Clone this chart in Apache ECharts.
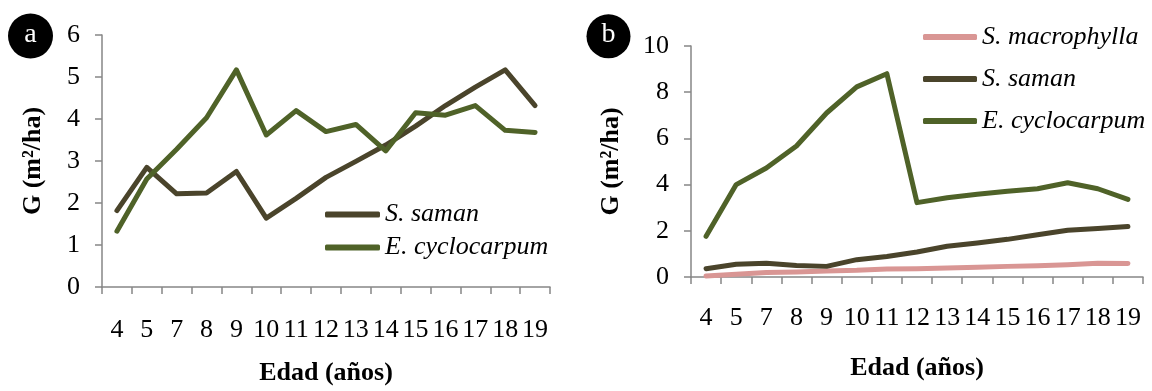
<!DOCTYPE html>
<html>
	<head>
		<meta charset="utf-8" />
		<title>G por edad</title>
		<script src="https://cdn.jsdelivr.net/npm/echarts@6/dist/echarts.min.js"></script>
		<style>
			body { margin: 0; background: #fff; }
		</style>
	</head>
	<body>
		<div id="main" style="width: 1152px;height: 391px;"></div>
	</body>
	<script type="text/javascript">
		// edades (eje x, categorias)
		var edades = ['4', '5', '7', '8', '9', '10', '11', '12', '13', '14', '15', '16', '17', '18', '19'];

		// panel a
		var samanA = [1.82, 2.85, 2.22, 2.24, 2.75, 1.64, 2.11, 2.61, 2.99, 3.38, 3.83, 4.32, 4.76, 5.17, 4.32];
		var cycloA = [1.33, 2.57, 3.28, 4.03, 5.17, 3.62, 4.2, 3.7, 3.87, 3.24, 4.15, 4.09, 4.32, 3.73, 3.68];

		// panel b
		var macroB = [0.04, 0.12, 0.19, 0.22, 0.26, 0.29, 0.35, 0.36, 0.39, 0.42, 0.46, 0.49, 0.53, 0.59, 0.58];
		var samanB = [0.36, 0.55, 0.6, 0.5, 0.46, 0.75, 0.89, 1.08, 1.33, 1.47, 1.63, 1.83, 2.02, 2.1, 2.19];
		var cycloB = [1.76, 4.0, 4.72, 5.67, 7.1, 8.23, 8.8, 3.22, 3.43, 3.58, 3.71, 3.82, 4.08, 3.82, 3.36];

		var fuente = '"Liberation Serif", "Times New Roman", serif';
		var gris = '#868686';
		var colSaman = '#4a442b';
		var colCyclo = '#4f6228';
		var colMacro = '#d99694';

		function ejeX(idx, margen, gap) {
			return {
				type: 'category',
				gridIndex: idx,
				data: edades,
				boundaryGap: true,
				name: 'Edad (años)',
				nameLocation: 'middle',
				nameGap: gap,
				nameTextStyle: { fontFamily: fuente, fontSize: 26, fontWeight: 'bold', color: '#000' },
				axisLine: { lineStyle: { color: gris, width: 1.5 } },
				axisTick: { show: true, length: 7, lineStyle: { color: gris, width: 1.5 } },
				axisLabel: { fontFamily: fuente, fontSize: 26, color: '#000', margin: margen, interval: 0 }
			};
		}

		function ejeY(idx, max, paso, gap) {
			return {
				type: 'value',
				gridIndex: idx,
				min: 0,
				max: max,
				interval: paso,
				name: 'G (m²/ha)',
				nameLocation: 'middle',
				nameGap: gap,
				nameRotate: 90,
				nameTextStyle: { fontFamily: fuente, fontSize: 26, fontWeight: 'bold', color: '#000' },
				axisLine: { show: true, lineStyle: { color: gris, width: 1.5 } },
				axisTick: { show: true, length: 7, lineStyle: { color: gris, width: 1.5 } },
				axisLabel: { fontFamily: fuente, fontSize: 26, color: '#000', margin: 22 },
				splitLine: { show: false }
			};
		}

		function linea(nombre, datos, color, idx) {
			return {
				name: nombre,
				type: 'line',
				xAxisIndex: idx,
				yAxisIndex: idx,
				data: datos,
				symbol: 'none',
				smooth: false,
				lineStyle: { color: color, width: 5, cap: 'round', join: 'round' },
				itemStyle: { color: color },
				animation: false
			};
		}

		var leyendaTexto = { fontFamily: fuente, fontSize: 26, fontStyle: 'italic', color: '#000' };

		var chart = echarts.init(document.getElementById('main'));
		var option = {
			backgroundColor: '#fff',
			animation: false,
			grid: [
				{ left: 102, right: 602, top: 35, bottom: 102 },
				{ left: 691, right: 9, top: 46, bottom: 114 }
			],
			xAxis: [ejeX(0, 30, 73), ejeX(1, 28, 78)],
			yAxis: [ejeY(0, 6, 1, 56), ejeY(1, 10, 2, 67)],
			legend: [
				{
					data: ['S. saman', 'E. cyclocarpum'],
					orient: 'vertical',
					left: 325,
					top: 198,
					padding: 0,
					itemGap: 0,
					itemWidth: 55,
					itemHeight: 6,
					icon: 'roundRect',
					textStyle: Object.assign({ lineHeight: 33 }, leyendaTexto)
				},
				{
					data: ['S. macrophylla', 'S. saman', 'E. cyclocarpum'],
					orient: 'vertical',
					left: 923,
					top: 16,
					padding: 0,
					itemGap: 0,
					itemWidth: 54,
					itemHeight: 6,
					icon: 'roundRect',
					textStyle: Object.assign({ lineHeight: 42 }, leyendaTexto)
				}
			],
			series: [
				linea('S. saman', samanA, colSaman, 0),
				linea('E. cyclocarpum', cycloA, colCyclo, 0),
				linea('S. macrophylla', macroB, colMacro, 1),
				linea('S. saman', samanB, colSaman, 1),
				linea('E. cyclocarpum', cycloB, colCyclo, 1)
			],
			graphic: [
				{ type: 'circle', shape: { cx: 30.5, cy: 36, r: 22.5 }, style: { fill: '#000' } },
				{ type: 'text', style: { text: 'a', x: 30.5, y: 35, fill: '#fff', font: '28px ' + fuente, textAlign: 'center', textVerticalAlign: 'middle', align: 'center', verticalAlign: 'middle' } },
				{ type: 'circle', shape: { cx: 608.5, cy: 36.3, r: 22 }, style: { fill: '#000' } },
				{ type: 'text', style: { text: 'b', x: 608.5, y: 35, fill: '#fff', font: '28px ' + fuente, textAlign: 'center', textVerticalAlign: 'middle', align: 'center', verticalAlign: 'middle' } }
			]
		};
		chart.setOption(option);
	</script>
</html>
